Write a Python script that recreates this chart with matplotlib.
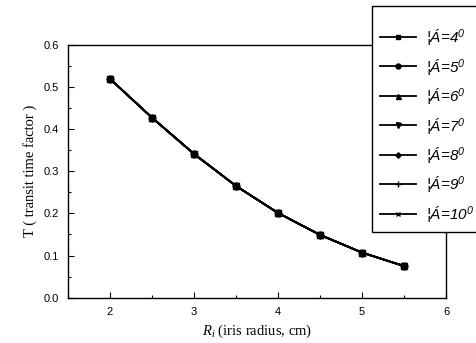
import matplotlib
matplotlib.use("Agg")
import matplotlib.pyplot as plt
from matplotlib.ticker import MultipleLocator, FormatStrFormatter

plt.rcParams['mathtext.fontset'] = 'custom'
plt.rcParams['mathtext.rm'] = 'Liberation Sans'
plt.rcParams['mathtext.it'] = 'Liberation Serif:italic'

R_i = [2.0, 2.5, 3.0, 3.5, 4.0, 4.5, 5.0, 5.5]
T_values = [0.519, 0.427, 0.341, 0.265, 0.201, 0.149, 0.107, 0.075]
angles = [4, 5, 6, 7, 8, 9, 10]
series = {a: T_values for a in angles}
markers = ['s', 'o', '^', 'v', 'D', '+', 'x']
msizes = [4, 4.5, 4.5, 4.5, 3.5, 5, 4]

fig = plt.figure(figsize=(4.77, 3.43), dpi=100)
ax = fig.add_axes([68/477, 1-297.7/343, (446-68)/477, (297.7-44.7)/343])

for a, m, ms in zip(angles, markers, msizes):
    ax.plot(R_i, series[a], color='black', lw=1.3, marker=m, ms=ms,
            markeredgewidth=1.0, label='¦Á=%d$^{\\mathregular{0}}$' % a)

ax.set_xlim(1.5, 6)
ax.set_ylim(0, 0.6)
ax.xaxis.set_major_locator(MultipleLocator(1))
ax.xaxis.set_minor_locator(MultipleLocator(0.5))
ax.yaxis.set_major_locator(MultipleLocator(0.1))
ax.yaxis.set_minor_locator(MultipleLocator(0.05))
ax.tick_params(which='both', direction='in', top=False, right=False,
               labelsize=8, width=0.8)
ax.tick_params(which='major', length=4)
ax.tick_params(which='minor', length=2)
ax.tick_params(axis='x', pad=6.5)
ax.tick_params(axis='y', pad=6.5)
ax.yaxis.set_major_formatter(FormatStrFormatter('%.1f'))
for lab in ax.get_xticklabels() + ax.get_yticklabels():
    lab.set_fontfamily('Liberation Sans')
for s in ax.spines.values():
    s.set_linewidth(1.0)

ax.set_xlabel('$R_i$ (iris radius, cm)', fontfamily='Liberation Serif', fontsize=10.5, labelpad=4)
ax.set_ylabel('T ( transit time factor )', fontfamily='Liberation Serif', fontsize=10.5, labelpad=5)

leg = fig.legend(loc='upper left', bbox_to_anchor=(372/477, 1-6/343),
                 bbox_transform=fig.transFigure, frameon=True, fancybox=False,
                 edgecolor='black', framealpha=1.0,
                 prop={'family': 'Liberation Sans', 'size': 11, 'style': 'italic'},
                 handlelength=2.4, handletextpad=0.65, labelspacing=0.62,
                 borderpad=0.5, borderaxespad=0, markerscale=0.8,
                 title=' ', title_fontsize=2.5)
leg.get_frame().set_linewidth(1.0)
leg.set_zorder(10)

fig.savefig('out.png', dpi=100)
